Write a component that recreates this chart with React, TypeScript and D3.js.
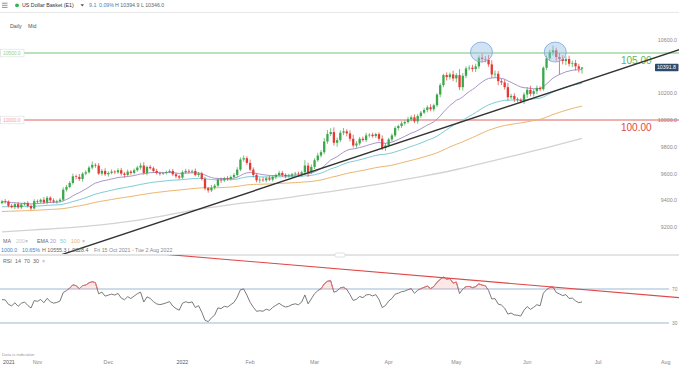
import React from 'react';
import * as d3 from 'd3';

// ---------- data ----------
const firstOpen = 9380;
const closes = [
  9391.8, 9390, 9360, 9350, 9372, 9348, 9370, 9380, 9358, 9340,
  9395, 9390, 9405, 9385, 9420, 9400, 9390, 9395, 9405, 9480,
  9500, 9530, 9580, 9575, 9560, 9600, 9610, 9645, 9665, 9660,
  9600, 9620, 9595, 9605, 9615, 9610, 9625, 9600, 9590, 9615,
  9605, 9625, 9645, 9660, 9605, 9650, 9640, 9620, 9605, 9600,
  9605, 9612, 9620, 9595, 9580, 9570, 9610, 9620, 9615, 9620,
  9590, 9600, 9560, 9490, 9475, 9495, 9510, 9555, 9550, 9565,
  9560, 9575, 9590, 9630, 9705, 9715, 9680, 9630, 9590, 9550,
  9555, 9550, 9565, 9555, 9575, 9590, 9605, 9590, 9580, 9585,
  9595, 9600, 9595, 9610, 9660, 9610, 9650, 9700, 9735, 9760,
  9840, 9895, 9910, 9830, 9850, 9905, 9915, 9900, 9860, 9810,
  9825, 9860, 9850, 9885, 9890, 9880, 9895, 9860, 9790, 9810,
  9855, 9885, 9940, 9955, 9975, 9985, 10005, 10020, 9990, 10030,
  10055, 10075, 10095, 10080, 10110, 10190, 10260, 10335, 10320, 10340,
  10310, 10335, 10245, 10330, 10385, 10390, 10380, 10400, 10465, 10455,
  10450, 10415, 10340, 10345, 10290, 10280, 10245, 10170, 10180, 10155,
  10150, 10140, 10190, 10225, 10195, 10215, 10240, 10230, 10390, 10460,
  10505, 10520, 10470, 10455, 10440, 10455, 10420, 10425, 10400, 10382.7,
  10391.8,
];
const wickUp = [
  12, 18, 10, 14, 9, 16, 11, 8, 15, 10,
  14, 12, 9, 20, 13, 11, 15, 10, 12, 18,
  16, 14, 20, 12, 22, 10, 15, 13, 25, 12,
  18, 14, 20, 12, 16, 10, 14, 18, 12, 15,
  11, 13, 12, 20, 25, 10, 14, 12, 16, 9,
  8, 10, 12, 15, 9, 11, 14, 16, 12, 10,
  18, 12, 14, 16, 10, 20, 13, 12, 15, 11,
  16, 12, 14, 18, 15, 20, 14, 25, 16, 12,
  15, 18, 12, 20, 14, 10, 16, 15, 12, 14,
  11, 13, 15, 12, 40, 22, 18, 15, 20, 16,
  25, 30, 28, 35, 20, 18, 25, 16, 22, 30,
  18, 14, 16, 20, 12, 15, 10, 14, 25, 18,
  12, 15, 14, 10, 16, 12, 18, 15, 22, 14,
  12, 16, 14, 22, 12, 10, 15, 10, 20, 14,
  28, 15, 45, 20, 15, 18, 22, 20, 18, 30,
  22, 35, 30, 25, 20, 18, 22, 30, 15, 20,
  14, 12, 16, 20, 30, 15, 18, 12, 10, 20,
  18, 35.3, 20, 30, 28, 20, 25, 18, 22, 20,
  3.1,
];
const wickDn = [
  10, 14, 12, 9, 15, 11, 13, 10, 12, 11.6,
  8, 15, 12, 10, 14, 18, 12, 15, 10, 12,
  14, 10, 12, 18, 15, 20, 12, 10, 14, 16,
  10, 15, 12, 18, 10, 14, 12, 15, 20, 12,
  14, 10, 12, 15, 12, 18, 10, 14, 12, 15,
  10, 12, 9, 12, 15, 14, 10, 12, 15, 12,
  10, 15, 12, 14, 18, 12, 15, 10, 20, 12,
  14, 12, 10, 15, 12, 16, 14, 12, 18, 15,
  20, 12, 15, 10, 14, 16, 12, 15, 14, 10,
  15, 12, 14, 18, 20, 35, 14, 16, 12, 15,
  15, 18, 14, 20, 30, 16, 18, 22, 20, 15,
  18, 15, 12, 14, 16, 12, 14, 18, 15, 20,
  14, 15, 12, 18, 14, 16, 12, 15, 14, 18,
  15, 12, 18, 14, 16, 12, 20, 15, 25, 18,
  20, 30, 22, 25, 18, 15, 20, 22, 18, 25,
  20, 18, 25, 22, 30, 20, 18, 25, 15, 20,
  18, 15, 20, 25, 18, 20, 22, 15, 12, 18,
  20, 25, 30, 115, 25, 30, 20, 25, 30, 28,
  36.7,
];
const ema20Seed = 9390;
const ema50Seed = 9350;
const ema100Seed = 9315;
const ma200Idx = [0, 10, 20, 30, 40, 50, 60, 70, 80, 90, 100, 110, 120, 130, 140, 150, 160, 170, 180];
const ma200Vals = [9165, 9180, 9195, 9215, 9245, 9285, 9330, 9365, 9395, 9425, 9460, 9495, 9535, 9578, 9625, 9682, 9740, 9800, 9862];
const rsiSeedGain = 14;
const rsiSeedLoss = 11;
const priceTicks = [9200, 9400, 9600, 9800, 10000, 10200, 10400, 10600];
const levelPrices = [10500, 10000];
const levelLabels = ['105.00', '100.00'];
const trendMain = [[20, 9007], [180, 10284]];
const trendRsi = [[50, 111], [186, 67.6]];
const topMarks = [[148.8, 10507], [171.7, 10507]];
const monthKeys = ['2021-11', '2021-12', '2022-01', '2022-02', '2022-03', '2022-04', '2022-05', '2022-06', '2022-07', '2022-08'];
const monthLabels = ['Nov', 'Dec', '2022', 'Feb', 'Mar', 'Apr', 'May', 'Jun', 'Jul', 'Aug'];
const startDate = '2021-10-15';
const rangeLabel = 'Fri 15 Oct 2021 - Tue 2 Aug 2022';

// ---------- styles ----------
const F = "'Liberation Sans', Arial, Helvetica, sans-serif";
const FS = 5.3;
const UP = '#3aa84a';
const DN = '#e53935';
const C20 = '#a994cc';
const C50 = '#7ccbd6';
const C100 = '#ebb56f';
const C200 = '#d2d2d2';
const GREENL = '#5cb85c';
const REDL = '#e04848';

export default function App() {
  const W = 679, H = 365;
  const n = closes.length;
  const x = d3.scaleLinear().domain([0, n - 1]).range([2, 582]);
  const y = d3.scaleLinear().domain([10000, 10500]).range([120, 53]);
  const yr = d3.scaleLinear().domain([30, 70]).range([323, 289]);

  const opens = closes.map((c, i) => (i === 0 ? firstOpen : closes[i - 1]));
  const highs = closes.map((c, i) => Math.max(opens[i], c) + wickUp[i]);
  const lows = closes.map((c, i) => Math.min(opens[i], c) - wickDn[i]);

  const ema = (period: number, seed: number) => {
    const k = 2 / (period + 1);
    let e = seed;
    return closes.map((c) => (e = c * k + e * (1 - k)));
  };
  const e20 = ema(20, ema20Seed);
  const e50 = ema(50, ema50Seed);
  const e100 = ema(100, ema100Seed);

  let ag = rsiSeedGain, al = rsiSeedLoss;
  const rsi = closes.map((c, i) => {
    const ch = c - (i === 0 ? opens[0] : closes[i - 1]);
    ag = (ag * 13 + Math.max(ch, 0)) / 14;
    al = (al * 13 + Math.max(-ch, 0)) / 14;
    return 100 - 100 / (1 + ag / al);
  });

  const lineP = d3.line<number>().x((d, i) => x(i)).y((d) => y(d));
  const ma200Line = d3
    .line<number>()
    .x((d, i) => x(ma200Idx[i]))
    .y((d) => y(d))
    .curve(d3.curveMonotoneX)(ma200Vals);
  const rsiLine = d3.line<number>().x((d, i) => x(i)).y((d) => yr(d))(rsi) || '';
  const rsiFill = d3
    .area<number>()
    .x((d, i) => x(i))
    .y0(yr(70))
    .y1((d) => yr(Math.max(d, 70)))(rsi) || '';

  const extend = (pts: number[][], ys: (v: number) => number) => {
    const [[i0, v0], [i1, v1]] = pts;
    const s = (v1 - v0) / (i1 - i0);
    const iA = x.invert(-10), iB = x.invert(W + 10);
    return { x1: x(iA), y1: ys(v0 + s * (iA - i0)), x2: x(iB), y2: ys(v0 + s * (iB - i0)) };
  };
  const tM = extend(trendMain, y);
  const tR = extend(trendRsi, yr);

  const days: Date[] = [];
  {
    let d = new Date(startDate + 'T00:00:00Z');
    while (days.length < 230) {
      const wd = d.getUTCDay();
      if (wd !== 0 && wd !== 6) days.push(d);
      d = new Date(d.getTime() + 864e5);
    }
  }
  const keyOf = (d: Date) => `${d.getUTCFullYear()}-${String(d.getUTCMonth() + 1).padStart(2, '0')}`;
  const monthTicks = monthKeys.map((k, j) => ({ label: monthLabels[j], idx: days.findIndex((d) => keyOf(d) === k) }));

  const last = closes[n - 1];
  const chg = last - closes[n - 2];
  const rangeChg = last - closes[0];
  const hi = d3.max(highs) as number;
  const lo = d3.min(lows) as number;

  const T = (props: any) => (
    <text fontFamily={F} fontSize={FS} fill="#666" {...props} />
  );

  return (
    <svg width={W} height={H} viewBox={`0 0 ${W} ${H}`} style={{ position: 'absolute', left: 0, top: 0, background: '#fff' }}>
      <defs>
        <clipPath id="mainClip"><rect x={0} y={13} width={W} height={241} /></clipPath>
        <clipPath id="rsiClip"><rect x={0} y={255} width={W} height={90} /></clipPath>
        <clipPath id="above70"><rect x={0} y={200} width={W} height={yr(70) - 200} /></clipPath>
        <clipPath id="below30"><rect x={0} y={yr(30)} width={W} height={60} /></clipPath>
      </defs>
      <rect width={W} height={H} fill="#fff" />

      {/* header */}
      <g stroke="#777" strokeWidth={0.8}>
        <line x1={2} x2={7.5} y1={3.2} y2={3.2} />
        <line x1={2} x2={7.5} y1={5.3} y2={5.3} />
        <line x1={2} x2={7.5} y1={7.4} y2={7.4} />
      </g>
      <circle cx={17} cy={5.3} r={1.9} fill="#2db84d" />
      <T x={22} y={7.2} fill="#333">US Dollar Basket (E1)</T>
      <path d="M80.5,4.3 L84,4.3 L82.25,6.5 Z" fill="#555" />
      <T x={89} y={7.2} fill="#3a86c8">{chg.toFixed(1)}</T>
      <T x={99} y={7.2} fill="#3a86c8">{((chg / closes[n - 2]) * 100).toFixed(2)}%</T>
      <T x={115} y={7.2} fill="#666">{`H ${highs[n - 1].toFixed(1)} L ${lows[n - 1].toFixed(1)}`}</T>
      <line x1={0} x2={W} y1={12.5} y2={12.5} stroke="#e8e8e8" strokeWidth={1} />
      <T x={10} y={27.5} fill="#555">Daily</T>
      <T x={28} y={27.5} fill="#555">Mid</T>

      {/* price axis labels */}
      {priceTicks.map((p) => (
        <T key={p} x={677} y={y(p) + 1.9} textAnchor="end" fill="#888">{p.toFixed(1)}</T>
      ))}

      {/* horizontal level lines */}
      {levelPrices.map((p, j) => (
        <g key={p}>
          <line x1={0} x2={W} y1={y(p)} y2={y(p)} stroke={j === 0 ? GREENL : REDL} strokeWidth={1} opacity={0.85} />
          <rect x={0.5} y={y(p) - 3.8} width={23.5} height={7.6} fill="#fff" stroke="#ddd" strokeWidth={0.6} />
          <T x={3} y={y(p) + 1.8} fill={j === 0 ? '#8fd18f' : '#f2a0a0'} fontSize={4.8}>{p.toFixed(1)}</T>
          <text x={621} y={y(p) + 10.5} fontFamily={F} fontSize={10} fill={j === 0 ? GREENL : REDL}>{levelLabels[j]}</text>
        </g>
      ))}

      <g clipPath="url(#mainClip)">
        <path d={ma200Line || ''} fill="none" stroke={C200} strokeWidth={1.3} />
        <path d={lineP(e100) || ''} fill="none" stroke={C100} strokeWidth={1} />
        <path d={lineP(e50) || ''} fill="none" stroke={C50} strokeWidth={1} />
        <path d={lineP(e20) || ''} fill="none" stroke={C20} strokeWidth={1} />

        {closes.map((c, i) => {
          const o = opens[i];
          const col = c >= o ? UP : DN;
          const top = y(Math.max(o, c));
          const bot = y(Math.min(o, c));
          return (
            <g key={i}>
              <line x1={x(i)} x2={x(i)} y1={y(highs[i])} y2={y(lows[i])} stroke={col} strokeWidth={0.7} />
              <rect x={x(i) - 1.15} y={top} width={2.3} height={Math.max(bot - top, 0.6)} fill={col} />
            </g>
          );
        })}

        <line {...tM} stroke="#333" strokeWidth={1.4} />

        {topMarks.map(([i, p], j) => (
          <ellipse key={j} cx={x(i)} cy={y(p)} rx={11} ry={10} fill="rgba(150,190,230,0.45)" stroke="#7ea6d6" strokeWidth={0.8} />
        ))}
      </g>

      {/* last price box */}
      <rect x={655} y={y(last) - 3.8} width={23.5} height={7.6} fill="#2f4b6c" rx={0.8} />
      <T x={666.5} y={y(last) + 1.9} textAnchor="middle" fill="#fff">{last.toFixed(1)}</T>

      {/* main legend */}
      <T x={3} y={243.3}>MA</T>
      <T x={16} y={243.3} fill="#c8c8c8">200</T>
      <T x={25} y={243.3} fill="#999">×</T>
      <T x={37} y={243.3}>EMA</T>
      <T x={50} y={243.3} fill={C20}>20</T>
      <T x={60} y={243.3} fill={C50}>50</T>
      <T x={71} y={243.3} fill={C100}>100</T>
      <T x={82} y={243.3} fill="#999">×</T>
      <T x={1} y={251.8} fill="#3a86c8">{rangeChg.toFixed(1)}</T>
      <T x={22} y={251.8} fill="#3a86c8">{((rangeChg / closes[0]) * 100).toFixed(2)}%</T>
      <T x={42} y={251.8}>{`H ${hi.toFixed(1)}`}</T>
      <T x={68} y={251.8}>{`L ${lo.toFixed(1)}`}</T>
      <T x={94} y={251.8} fill="#888">{rangeLabel}</T>

      {/* separator */}
      <line x1={0} x2={W} y1={255} y2={255} stroke="#e4e4e4" strokeWidth={2} />
      <rect x={335} y={253} width={10} height={4} rx={1.5} fill="#fff" stroke="#ccc" strokeWidth={0.6} />

      {/* RSI pane */}
      <T x={3} y={263.2}>RSI</T>
      <T x={15} y={263.2}>14</T>
      <T x={24} y={263.2}>70</T>
      <T x={33} y={263.2}>30</T>
      <T x={42} y={263.2} fill="#999">×</T>
      {[70, 30].map((v) => (
        <g key={v}>
          <line x1={0} x2={669} y1={yr(v)} y2={yr(v)} stroke="#9db8d4" strokeWidth={1} />
          <T x={672} y={yr(v) + 1.8} fill="#888" fontSize={4.8}>{v}</T>
        </g>
      ))}
      <path d={rsiFill} fill="rgba(240,110,110,0.16)" />
      <path d={rsiLine} fill="none" stroke="#6b6b6b" strokeWidth={0.9} />
      <path d={rsiLine} fill="none" stroke="#f07070" strokeWidth={0.9} clipPath="url(#above70)" />
      <path d={rsiLine} fill="none" stroke="#3cb04a" strokeWidth={0.9} clipPath="url(#below30)" />
      <g clipPath="url(#rsiClip)">
        <line {...tR} stroke={REDL} strokeWidth={1.1} />
      </g>

      {/* bottom */}
      <T x={2} y={355.5} fontSize={4.3} fill="#999">Data is indicative</T>
      <T x={3} y={363.5} fill="#555">2021</T>
      {monthTicks.map((t) => (
        <T key={t.label} x={x(t.idx)} y={363.5} textAnchor="middle" fill={t.label === '2022' ? '#555' : '#888'}>{t.label}</T>
      ))}
    </svg>
  );
}
